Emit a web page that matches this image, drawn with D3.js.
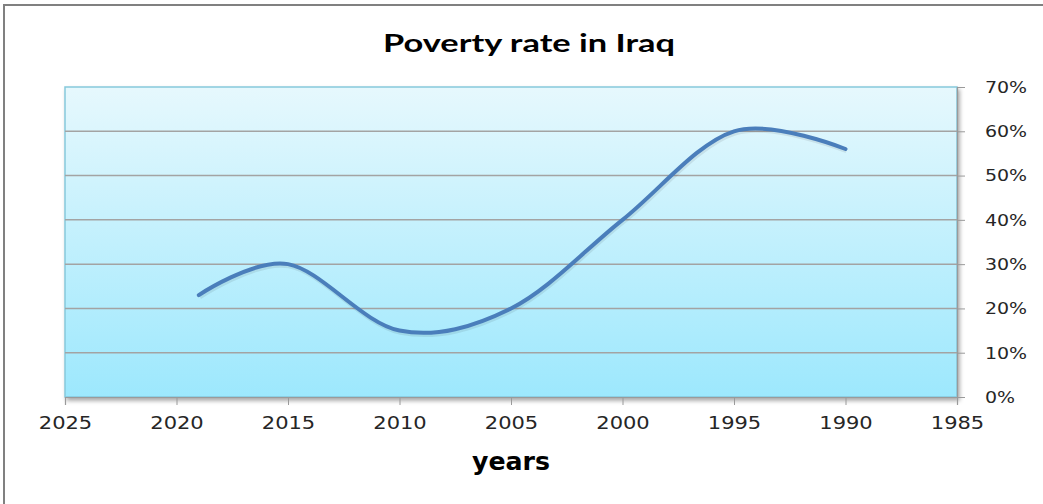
<!DOCTYPE html>
<html>
<head>
<meta charset="utf-8">
<script src="https://cdn.jsdelivr.net/npm/d3@7"></script>
<style>
  body { margin: 0; background: #fff; }
  svg text { font-family: "DejaVu Sans", Verdana, sans-serif; fill: #262626; }
</style>
</head>
<body>
<div id="chart"></div>
<script>
// data
const years = [2019, 2015, 2010, 2005, 2000, 1995, 1990];
const poverty = [0.23, 0.30, 0.15, 0.20, 0.40, 0.60, 0.56];
const xTicks = [2025, 2020, 2015, 2010, 2005, 2000, 1995, 1990, 1985];
const yTicks = [0, 0.1, 0.2, 0.3, 0.4, 0.5, 0.6, 0.7];

const width = 1043, height = 504;
const margin = { top: 87, right: 86, bottom: 107, left: 65 };

const svg = d3.select("#chart").append("svg")
  .attr("width", width)
  .attr("height", height);

const defs = svg.append("defs");
const grad = defs.append("linearGradient")
  .attr("id", "bg").attr("x1", 0).attr("y1", 0).attr("x2", 0).attr("y2", 1);
grad.append("stop").attr("offset", "0%").attr("stop-color", "#e6f8fd");
grad.append("stop").attr("offset", "100%").attr("stop-color", "#9de8fd");

const shadow = defs.append("filter").attr("id", "shadow")
  .attr("x", "-5%").attr("y", "-5%").attr("width", "110%").attr("height", "115%");
shadow.append("feDropShadow").attr("dx", 2).attr("dy", 3).attr("stdDeviation", 2)
  .attr("flood-color", "#000").attr("flood-opacity", 0.35);

// outer chart frame
svg.append("rect")
  .attr("x", 4).attr("y", 5)
  .attr("width", width + 10).attr("height", height + 10)
  .attr("fill", "#fff").attr("stroke", "#808080").attr("stroke-width", 2);

const x = d3.scaleLinear()
  .domain([2025, 1985])
  .range([margin.left, width - margin.right]);

const y = d3.scaleLinear()
  .domain([0, 0.7])
  .range([height - margin.bottom, margin.top]);

// plot area
svg.append("rect")
  .attr("x", x(2025)).attr("y", y(0.7))
  .attr("width", x(1985) - x(2025)).attr("height", y(0) - y(0.7))
  .attr("fill", "url(#bg)")
  .attr("stroke", "#86c9dc").attr("stroke-width", 1.5)
  .attr("filter", "url(#shadow)");

// gridlines
svg.append("g")
  .selectAll("line")
  .data(yTicks.slice(1, -1))
  .join("line")
  .attr("x1", x(2025)).attr("x2", x(1985))
  .attr("y1", d => y(d)).attr("y2", d => y(d))
  .attr("stroke", "#a3a3a3").attr("stroke-width", 1.5);

// y axis on the right
const yAxis = svg.append("g")
  .attr("transform", `translate(${x(1985)},0)`)
  .call(d3.axisRight(y).tickValues(yTicks).tickFormat(d3.format(".0%")).tickSize(8).tickPadding(20));
yAxis.select(".domain").attr("stroke", "#9a9a9a").attr("stroke-width", 1.2);
yAxis.selectAll(".tick line").attr("stroke", "#9a9a9a");
yAxis.selectAll(".tick text")
  .attr("font-size", 16.5)
  .attr("fill", "#262626")
  .attr("transform", function () {
    const tx = +d3.select(this).attr("x");
    return `translate(${tx},0) scale(1.15,1) translate(${-tx},0)`;
  });

// x axis
const xAxis = svg.append("g")
  .attr("transform", `translate(0,${y(0)})`)
  .call(d3.axisBottom(x).tickValues(xTicks).tickFormat(d3.format("d")).tickSize(8).tickPadding(12));
xAxis.select(".domain").attr("stroke", "#9a9a9a").attr("stroke-width", 1.2);
xAxis.selectAll(".tick line").attr("stroke", "#9a9a9a");
xAxis.selectAll(".tick text")
  .attr("font-size", 17.5)
  .attr("fill", "#262626")
  .attr("transform", "scale(1.2,1)");

// smoothed line
const line = d3.line()
  .x((d, i) => x(years[i]))
  .y(d => y(d))
  .curve(d3.curveCardinal.tension(0));

svg.append("path")
  .datum(poverty)
  .attr("d", line)
  .attr("fill", "none")
  .attr("stroke", "#000")
  .attr("stroke-opacity", 0.08)
  .attr("stroke-width", 4.5)
  .attr("transform", "translate(1,2)");

svg.append("path")
  .datum(poverty)
  .attr("d", line)
  .attr("fill", "none")
  .attr("stroke", "#4a7ebb")
  .attr("stroke-width", 4)
  .attr("stroke-linecap", "round");

// title
svg.append("text")
  .attr("x", 529).attr("y", 52)
  .attr("text-anchor", "middle")
  .style("font-family", "Lato, 'Open Sans', sans-serif")
  .attr("font-weight", "bold")
  .attr("font-size", 25)
  .attr("textLength", 292)
  .attr("lengthAdjust", "spacingAndGlyphs")
  .style("fill", "#000")
  .text("Poverty rate in Iraq");

// x axis title
svg.append("text")
  .attr("x", 511).attr("y", 470)
  .attr("text-anchor", "middle")
  .attr("font-weight", "bold")
  .attr("font-size", 24)
  .attr("textLength", 78)
  .attr("lengthAdjust", "spacingAndGlyphs")
  .style("fill", "#000")
  .text("years");
</script>
</body>
</html>
